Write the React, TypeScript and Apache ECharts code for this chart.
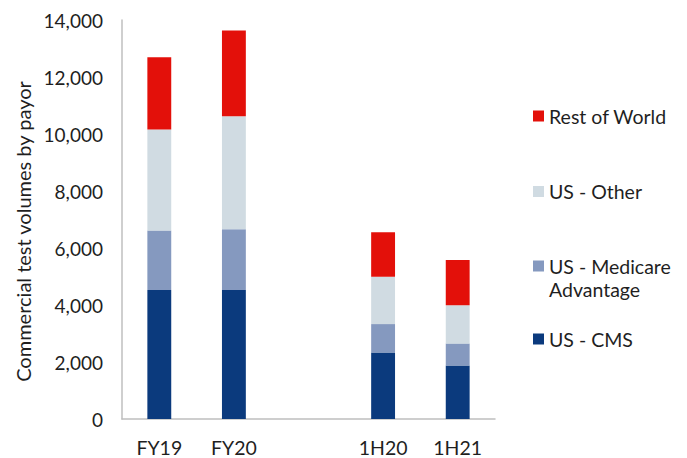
import React, { useEffect, useRef } from "react";
import * as echarts from "echarts";

const categories = ["FY19", "FY20", "", "1H20", "1H21"];
const usCms = [4530, 4530, null, 2335, 1880];
const usMedicare = [2085, 2130, null, 995, 770];
const usOther = [3540, 3960, null, 1660, 1345];
const restOfWorld = [2540, 3015, null, 1565, 1580];
const yTicks = { min: 0, max: 14000, interval: 2000 };

const seriesNames = ["US - CMS", "US - Medicare Advantage", "US - Other", "Rest of World"];
const seriesColors = ["#0B3A7D", "#8599BF", "#D0DBE2", "#E3100A"];
const seriesData = [usCms, usMedicare, usOther, restOfWorld];

const FONT = "Lato, 'Open Sans', sans-serif";
const TEXT = "#1F1F1F";

export default function App() {
  const ref = useRef<HTMLDivElement>(null);
  useEffect(() => {
    if (!ref.current) return;
    const chart = echarts.init(ref.current, undefined, { renderer: "svg" });
    const legendCenters = [339, 266, 191.5, 116];
    const legendLabels = ["US - CMS", "US - Medicare", "US - Other", "Rest of World"];
    chart.setOption({
      animation: false,
      textStyle: { fontFamily: FONT },
      grid: { left: 122, right: 192, top: 20, bottom: 39, containLabel: false },
      legend: seriesNames.map((n, i) => ({
        data: [n],
        left: 533,
        top: legendCenters[i] - 11,
        padding: 0,
        itemWidth: 11,
        itemHeight: 11,
        icon: "rect",
        formatter: () => legendLabels[i],
        textStyle: { fontSize: 19.5, color: TEXT, lineHeight: 22, fontFamily: FONT },
        selectedMode: false,
      })),
      graphic: [
        {
          type: "text",
          left: 549,
          top: 278,
          style: { text: "Advantage", fontSize: 19.5, fill: TEXT, fontFamily: FONT, lineHeight: 22 },
        },
      ],
      xAxis: {
        type: "category",
        data: categories,
        axisLine: { show: true, lineStyle: { color: "#BFBFBF", width: 1.5 } },
        axisTick: { show: false },
        axisLabel: { color: TEXT, fontSize: 19.5, margin: 18, fontFamily: FONT },
      },
      yAxis: {
        type: "value",
        min: yTicks.min,
        max: yTicks.max,
        interval: yTicks.interval,
        name: "Commercial test volumes by payor",
        nameLocation: "middle",
        nameGap: 89,
        nameTextStyle: { color: TEXT, fontSize: 20, fontFamily: FONT, padding: [0, 24, 0, 0] },
        axisLine: { show: true, lineStyle: { color: "#BFBFBF", width: 1.5 } },
        axisTick: { show: false },
        splitLine: { show: false },
        axisLabel: {
          color: TEXT,
          fontSize: 19,
          margin: 19,
          fontFamily: FONT,
          formatter: (v: number) => v.toLocaleString("en-US"),
        },
      },
      series: seriesNames.map((n, i) => ({
        name: n,
        type: "bar",
        stack: "total",
        barWidth: "32%",
        itemStyle: { color: seriesColors[i] },
        data: seriesData[i],
      })),
    });
    return () => chart.dispose();
  }, []);
  return <div ref={ref} style={{ position: "absolute", left: 0, top: 0, width: 687, height: 458 }} />;
}
